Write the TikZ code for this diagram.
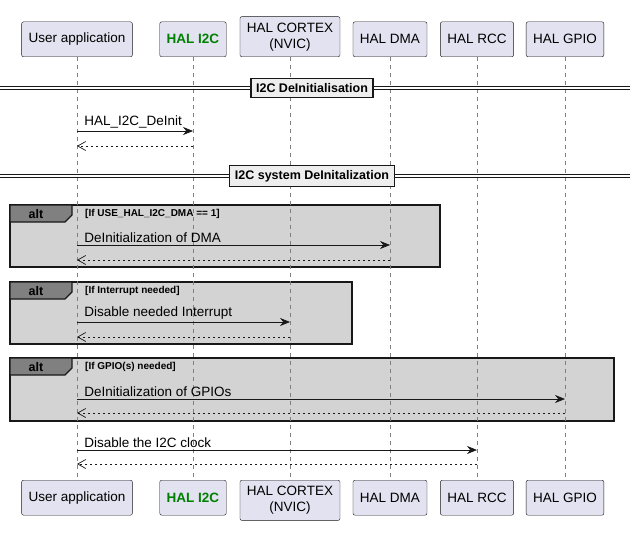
\documentclass[tikz,border=0pt]{standalone}
\usepackage{fontspec}
\setmainfont{Liberation Sans}
\usetikzlibrary{arrows.meta, positioning}
\definecolor{partfill}{HTML}{E2E2F0}
\definecolor{edge}{HTML}{181818}
\definecolor{altfill}{HTML}{D3D3D3}
\definecolor{tabfill}{HTML}{808080}
\definecolor{sepfill}{HTML}{EEEEEE}
\definecolor{hgreen}{HTML}{008000}
\tikzset{
  part/.style={draw=edge, fill=partfill, rounded corners=2pt, align=center,
    font=\fontsize{13.5}{16}\selectfont, inner xsep=7pt, inner ysep=6pt, minimum height=35pt},
  life/.style={draw=gray, dash pattern=on 4pt off 4pt, line width=0.5pt},
  msg/.style={draw=edge, -{Stealth[length=10pt,width=8pt]}, line width=0.7pt},
  ret/.style={draw=edge, -{Straight Barb[length=8pt,width=9pt]}, dash pattern=on 2.5pt off 2.5pt, line width=0.7pt},
  lbl/.style={font=\fontsize{13.5}{15}\selectfont, anchor=south west, inner sep=2pt},
  sepbox/.style={draw=edge, fill=sepfill, line width=1.2pt, font=\bfseries\fontsize{12.5}{14}\selectfont, inner xsep=5pt, inner ysep=5pt},
  altbox/.style={draw=edge, fill=altfill, line width=1.3pt},
  cond/.style={font=\bfseries\fontsize{10}{12}\selectfont, anchor=west, inner sep=0pt},
}
\begin{document}
\begin{tikzpicture}[x=1pt, y=-1pt]
  \useasboundingbox (0,0) rectangle (630,535);

  % Alt frames (behind lifelines)
  \draw[altbox] (10,205) rectangle (440,267);
  \draw[altbox] (10,282) rectangle (352,344);
  \draw[altbox] (10,358) rectangle (614,421);
  \foreach \ty/\tn in {205/a, 282/b, 358/c} {
    \draw[edge, fill=tabfill, line width=1.3pt] (10,\ty) -- (72,\ty) -- (72,\ty+10) -- (65,\ty+17) -- (10,\ty+17) -- cycle;
    \node[font=\bfseries\fontsize{12.5}{14}\selectfont, inner sep=0pt] (tab\tn) at (36,\ty+9) {alt};
  }
  \node[cond] (conda) at (85,214) {[If USE\_HAL\_I2C\_DMA == 1]};
  \node[cond] (condb) at (85,291) {[If Interrupt needed]};
  \node[cond] (condc) at (85,367) {[If GPIO(s) needed]};

  % Participants
  \foreach \nm/\xx/\txt in {ua/77/User application, cx/290/{HAL CORTEX\\(NVIC)}, dma/390/HAL DMA, rcc/477/HAL RCC, gpio/565/HAL GPIO} {
    \node[part, anchor=south] (\nm) at (\xx,57) {\txt};
    \node[part, anchor=north] (\nm b) at (\xx,480) {\txt};
  }
  \node[part, anchor=south, font=\bfseries\fontsize{13.5}{16}\selectfont, text=hgreen] (i2c) at (193,57) {HAL I2C};
  \node[part, anchor=north, font=\bfseries\fontsize{13.5}{16}\selectfont, text=hgreen] (i2cb) at (193,480) {HAL I2C};

  % Lifelines
  \foreach \nm in {ua, i2c, cx, dma, rcc, gpio}
    \draw[life] (\nm.south) -- (\nm b.north);

  % Separators
  \foreach \yy/\txt/\nm in {88/I2C DeInitialisation/sepa, 176/I2C system DeInitalization/sepb} {
    \draw[edge, line width=0.8pt] (0,\yy-1.5) -- (630,\yy-1.5) (0,\yy+1.5) -- (630,\yy+1.5);
    \node[sepbox] (\nm) at (312,\yy) {\txt};
  }

  % Messages
  \draw[msg] (ua.south |- 0,131) -- (i2c.south |- 0,131) node[lbl, pos=0, xshift=5pt] {HAL\_I2C\_DeInit};
  \draw[ret] (i2c.south |- 0,146) -- (ua.south |- 0,146);
  \draw[msg] (ua.south |- 0,245) -- (dma.south |- 0,245) node[lbl, pos=0, xshift=5pt] {DeInitialization of DMA};
  \draw[ret] (dma.south |- 0,260) -- (ua.south |- 0,260);
  \draw[msg] (ua.south |- 0,322) -- (cx.south |- 0,322) node[lbl, pos=0, xshift=5pt] {Disable needed Interrupt};
  \draw[ret] (cx.south |- 0,337) -- (ua.south |- 0,337);
  \draw[msg] (ua.south |- 0,399) -- (gpio.south |- 0,399) node[lbl, pos=0, xshift=5pt] {DeInitialization of GPIOs};
  \draw[ret] (gpio.south |- 0,413) -- (ua.south |- 0,413);
  \draw[msg] (ua.south |- 0,450) -- (rcc.south |- 0,450) node[lbl, pos=0, xshift=5pt] {Disable the I2C clock};
  \draw[ret] (rcc.south |- 0,464) -- (ua.south |- 0,464);
\end{tikzpicture}
\end{document}
